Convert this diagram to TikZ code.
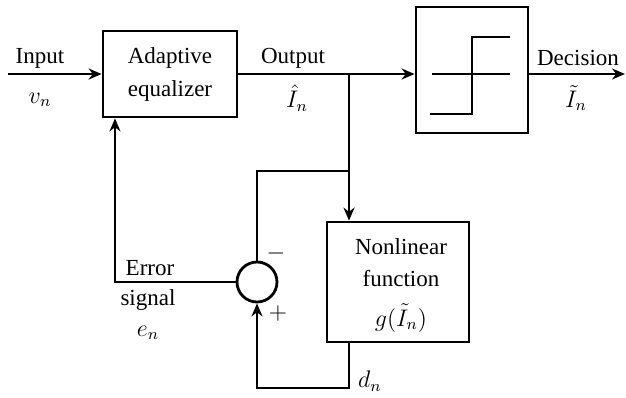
\documentclass[tikz,border=0pt]{standalone}
\usepackage{fontspec}
\setmainfont{Liberation Serif}
\usetikzlibrary{arrows.meta}
\begin{document}
\begin{tikzpicture}[x=0.5pt,y=-0.5pt,
  every node/.style={font=\fontsize{11.5}{16.5}\selectfont},
  wire/.style={line width=1.4pt},
  arr/.style={wire,-{Stealth[length=6.5pt,width=5.5pt]}},
  block/.style={draw,line width=1.4pt,inner sep=0pt,align=center},
  lbl/.style={inner sep=0pt}]
\useasboundingbox (0,0) rectangle (626,397);
% blocks
\node[block,minimum width=67pt,minimum height=43pt] (eq) at (170,74) {Adaptive\\equalizer};
\node[block,minimum width=56pt,minimum height=63pt] (dec) at (472,70) {};
\node[block,minimum width=71pt,minimum height=60pt] (nl) at (398,282) {};
\node[draw,circle,line width=1.4pt,minimum size=20pt,inner sep=0pt] (sum) at (257,282) {};
% nonlinear text
\node[lbl] (nl1) at (401,247) {Nonlinear};
\node[lbl] (nl2) at (401,279) {function};
\node[lbl] (nl3) at (401,318) {$g(\tilde{I}_n)$};
% decision staircase
\draw[wire] (432,74) -- (510,74);
\draw[wire] (430,114) -- (472,114) -- (472,37) -- (510,37);
% coordinates
\coordinate (in) at (8,74);
\coordinate (br) at (349,74);
\coordinate (out) at (625,74);
\coordinate (br2) at (349,171);
\coordinate (ec) at (115,282);
\coordinate (bot) at (349,388);
% connectors
\draw[arr] (in) -- (eq.west);
\draw[arr] (eq.east) -- (eq.east -| dec.west);
\draw[arr] (out -| dec.east) -- (out);
\draw[arr] (br) -- (br |- nl.north);
\draw[wire] (br2) -| (sum.north);
\draw[arr] (sum.west) -- (ec) -- (ec |- eq.south);
\draw[arr] (br |- nl.south) -- (bot) -| (sum.south);
% labels
\node[lbl] (tin) at (40,58) {Input};
\node[lbl] (tv) at (40,100) {$v_n$};
\node[lbl] (tout) at (293,58) {Output};
\node[lbl] (thi) at (297,98) {$\hat{I}_n$};
\node[lbl] (tdec) at (578,58) {Decision};
\node[lbl] (tti) at (576,98) {$\tilde{I}_n$};
\node[lbl] (terr) at (150,268) {Error};
\node[lbl] (tsig) at (148,300) {signal};
\node[lbl] (ten) at (148,333) {$e_n$};
\node[lbl] (tminus) at (276,253) {$-$};
\node[lbl] (tplus) at (278,313) {$+$};
\node[lbl] (tdn) at (370,381) {$d_n$};
\end{tikzpicture}
\end{document}
